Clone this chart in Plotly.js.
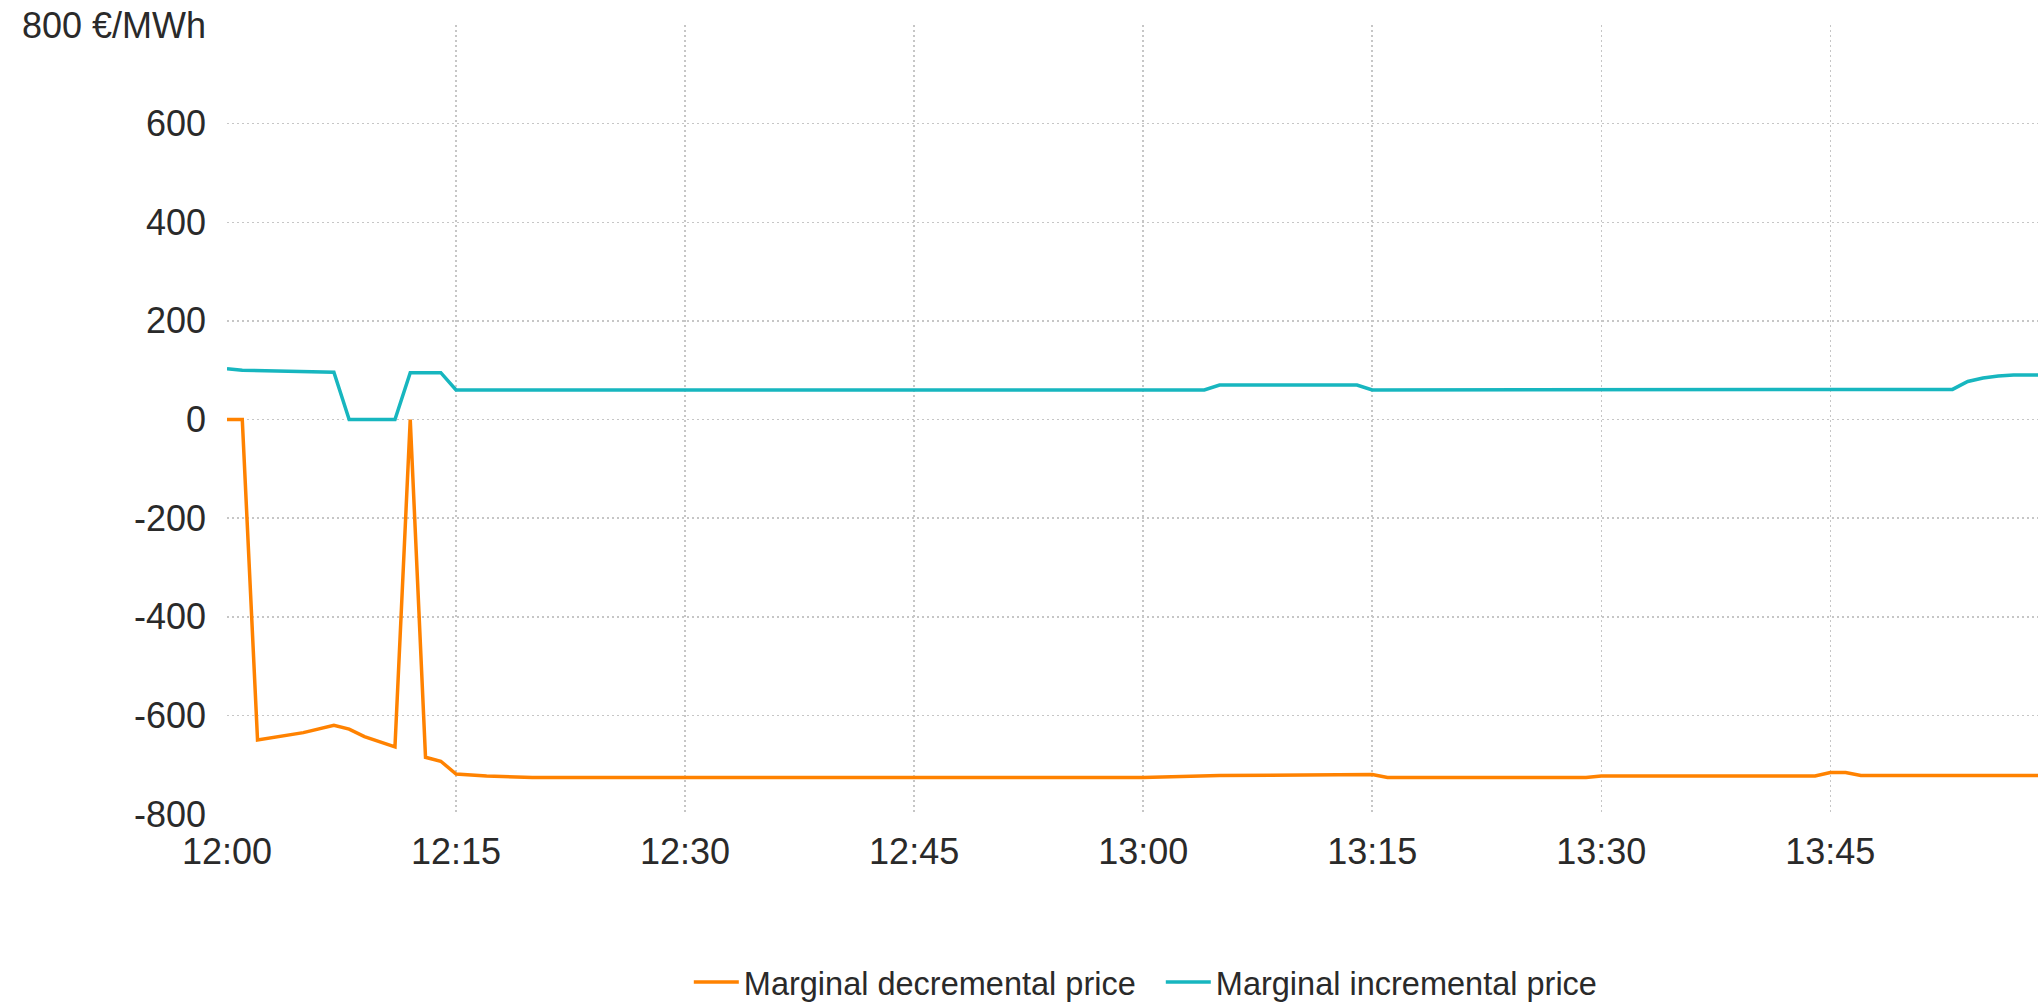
<!DOCTYPE html>
<html>
<head>
<meta charset="utf-8">
<script src="https://cdn.plot.ly/plotly-3.0.1.min.js"></script>
<style>
  html, body { margin: 0; padding: 0; background: #ffffff; }
  #chart { width: 2038px; height: 1002px; }
</style>
</head>
<body>
<div id="chart"></div>
<script>
// Marginal incremental price (€/MWh) – breakpoints
const incTimes = ["12:00","12:01","12:07","12:08","12:11","12:12","12:14","12:15","13:04","13:05","13:14","13:15","13:53","13:54","13:55","13:56","13:57","13:59"];
const incValues = [103, 100, 96, 0, 0, 95, 95, 60, 60, 70, 70, 60, 61, 77, 84, 88, 90, 90];

// Marginal decremental price (€/MWh)
const decTimes = ["12:00","12:01","12:02","12:04","12:05","12:07","12:08","12:09","12:10","12:11","12:12","12:13","12:14","12:15","12:17","12:20","13:00","13:05","13:15","13:16","13:29","13:30","13:44","13:45","13:46","13:47","13:59"];
const decValues = [0, 0, -650, -641, -635, -620, -628, -643, -654, -664, 0, -685, -693, -719, -723, -726, -726, -722, -720, -726, -726, -723, -723, -716, -716, -722, -722];

// Axis ticks
const yTickVals = [-800, -600, -400, -200, 0, 200, 400, 600, 800];
const yTickText = ["-800", "-600", "-400", "-200", "0", "200", "400", "600", "800 €/MWh"];
const xTickTimes = ["12:00","12:15","12:30","12:45","13:00","13:15","13:30","13:45"];
const xTickText = ["12:00","12:15","12:30","12:45","13:00","13:15","13:30","13:45"];
const day = "2024-01-01 ";
const xRange = ["12:00", "13:58:36"];

const toDate = arr => arr.map(t => day + t);

const traces = [
  {
    x: toDate(decTimes), y: decValues,
    type: "scatter", mode: "lines",
    name: "Marginal decremental price",
    line: { color: "#ff8200", width: 3.5 }
  },
  {
    x: toDate(incTimes), y: incValues,
    type: "scatter", mode: "lines",
    name: "Marginal incremental price",
    line: { color: "#17b6bf", width: 3.5 }
  }
];

const fontFamily = "Liberation Sans, Arial, Helvetica, sans-serif";
const textColor = "#2a2a2a";

const layout = {
  width: 2038, height: 1002,
  margin: { l: 227, r: 0, t: 25, b: 188, pad: 0, autoexpand: false },
  paper_bgcolor: "#ffffff",
  plot_bgcolor: "#ffffff",
  font: { family: fontFamily, size: 36, color: textColor },
  showlegend: true,
  hovermode: false,
  xaxis: {
    type: "date",
    range: toDate(xRange),
    tickmode: "array",
    tickvals: toDate(xTickTimes),
    ticktext: xTickText,
    showgrid: true,
    gridcolor: "#c6c6c6",
    gridwidth: 1.5,
    griddash: "2px,3px",
    zeroline: false,
    showline: false,
    ticks: "",
    ticklabelstandoff: 13,
    automargin: false,
    tickfont: { size: 36, color: textColor }
  },
  yaxis: {
    range: [-800, 800],
    tickmode: "array",
    tickvals: yTickVals,
    ticktext: yTickText,
    showgrid: true,
    gridcolor: "#c6c6c6",
    gridwidth: 1.5,
    griddash: "2px,3px",
    zeroline: false,
    showline: false,
    ticks: "",
    ticklabelstandoff: 20,
    automargin: false,
    tickfont: { size: 36, color: textColor }
  },
  legend: {
    orientation: "h",
    x: 0.255, xanchor: "left",
    y: -0.178, yanchor: "top",
    itemwidth: 45,
    entrywidth: 412,
    entrywidthmode: "pixels",
    font: { size: 32.5, color: textColor, family: fontFamily },
    bgcolor: "rgba(0,0,0,0)",
    itemclick: false, itemdoubleclick: false
  }
};

Plotly.newPlot("chart", traces, layout, { displayModeBar: false, staticPlot: true });
</script>
</body>
</html>
